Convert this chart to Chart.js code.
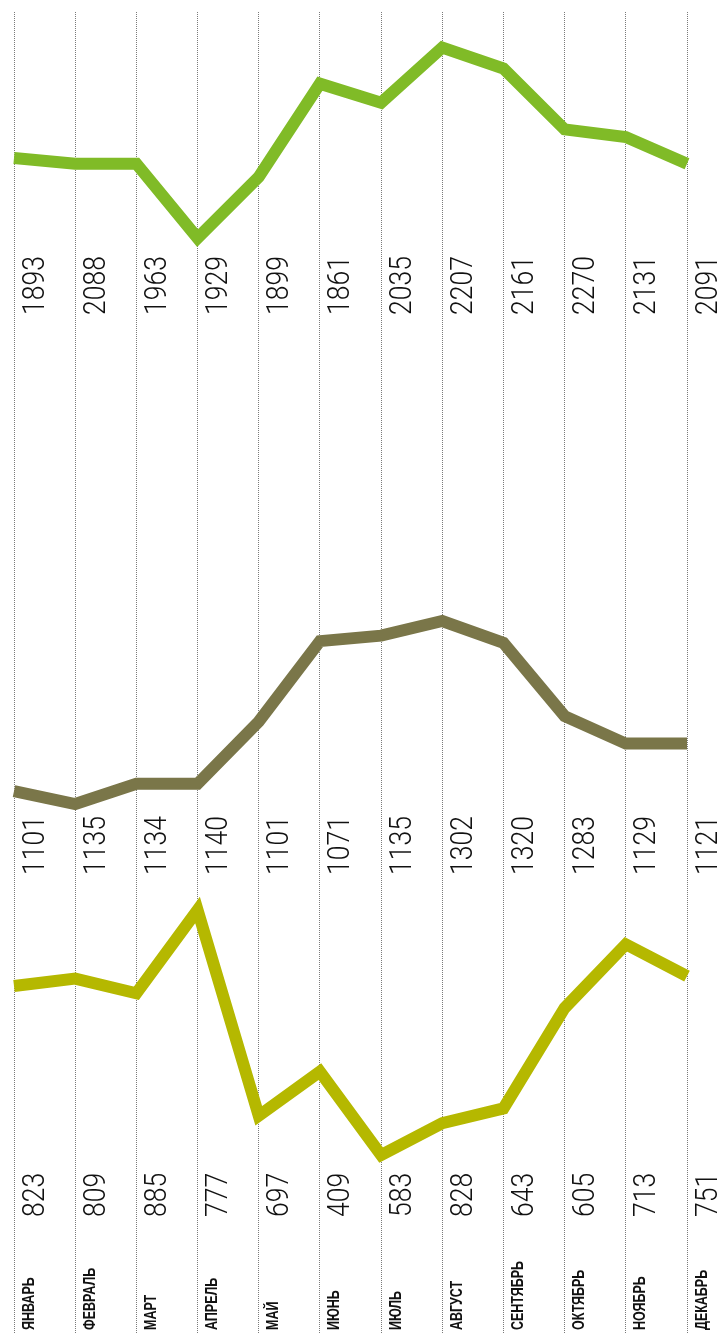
<!DOCTYPE html>
<html lang="ru">
<head>
<meta charset="utf-8">
<title>График по месяцам</title>
<script src="https://cdn.jsdelivr.net/npm/chart.js@4/dist/chart.umd.min.js"></script>
<style>
    html, body { margin: 0; padding: 0; background: #fff; }
    #wrap { width: 722px; height: 1334px; }
</style>
</head>
<body>
<div id="wrap"><canvas id="grafik" width="722" height="1334"></canvas></div>
<script>
// ------------------- ДАННЫЕ -------------------

const mesyatsy = ['ЯНВАРЬ', 'ФЕВРАЛЬ', 'МАРТ', 'АПРЕЛЬ', 'МАЙ', 'ИЮНЬ',
    'ИЮЛЬ', 'АВГУСТ', 'СЕНТЯБРЬ', 'ОКТЯБРЬ', 'НОЯБРЬ', 'ДЕКАБРЬ'];

// Подписи под линиями
const chislaVerh = [1893, 2088, 1963, 1929, 1899, 1861, 2035, 2207, 2161, 2270, 2131, 2091];
const chislaSred = [1101, 1135, 1134, 1140, 1101, 1071, 1135, 1302, 1320, 1283, 1129, 1121];
const chislaNiz = [823, 809, 885, 777, 697, 409, 583, 828, 643, 605, 713, 751];

// Форма линий (относительный уровень 0..100)
const liniyaVerh = [42, 39, 39, 0, 32, 81, 71, 100, 89, 57, 53, 39];
const liniyaSred = [7, 0, 11, 11, 45, 89, 92, 100, 88, 48, 33, 33];
const liniyaNiz = [69, 72, 66, 100, 16, 34, 0, 13, 19, 60, 86, 73];

// ------------------- РАЗМЕТКА -------------------

const OBLAST_VERH = 12;     // верх области графика
const OBLAST_NIZ = 1334;    // низ области графика

// Полосы, в которых живёт каждая линия: [пиксель для 100, пиксель для 0]
function os(verh, niz) {
    const k = (niz - verh) / 100;
    return {
        display: false,
        min: -(OBLAST_NIZ - niz) / k,
        max: 100 + (verh - OBLAST_VERH) / k
    };
}

// Рисуем повёрнутый текст снизу вверх
function povernutyTekst(ctx, tekst, x, y, shrift, szhatie) {
    ctx.save();
    ctx.translate(x, y);
    ctx.rotate(-Math.PI / 2);
    ctx.scale(szhatie, 1);
    ctx.font = shrift;
    ctx.fillStyle = '#111';
    ctx.textAlign = 'left';
    ctx.textBaseline = 'alphabetic';
    ctx.fillText(tekst, 0, 0);
    ctx.restore();
}

const podpisi = {
    id: 'podpisi',
    afterDraw(chart) {
        const ctx = chart.ctx;
        const x = chart.scales.x;
        mesyatsy.forEach((m, i) => {
            const px = x.getPixelForValue(i);
            povernutyTekst(ctx, String(chislaVerh[i]), px + 29.5, 315, '300 32px Roboto', 0.83);
            povernutyTekst(ctx, String(chislaSred[i]), px + 29.5, 875, '300 32px Roboto', 0.83);
            povernutyTekst(ctx, String(chislaNiz[i]), px + 29.5, 1217, '300 32px Roboto', 0.83);
            povernutyTekst(ctx, m, px + 19.5, 1330, 'bold 16px "Liberation Sans", Arial, sans-serif', 0.78);
        });
    }
};

function liniya(dannye, cvet, os) {
    return {
        data: dannye,
        yAxisID: os,
        borderColor: cvet,
        borderWidth: 12,
        borderCapStyle: 'butt',
        borderJoinStyle: 'miter',
        pointRadius: 0,
        tension: 0,
        fill: false
    };
}

new Chart(document.getElementById('grafik').getContext('2d'), {
    type: 'line',
    data: {
        labels: mesyatsy,
        datasets: [
            liniya(liniyaVerh, '#80bb27', 'yVerh'),
            liniya(liniyaSred, '#7a7649', 'ySred'),
            liniya(liniyaNiz, '#b5b800', 'yNiz')
        ]
    },
    options: {
        responsive: false,
        animation: false,
        layout: { padding: { top: OBLAST_VERH, bottom: 0, left: 14, right: 35 } },
        plugins: { legend: { display: false }, tooltip: { enabled: false } },
        scales: {
            x: {
                offset: false,
                ticks: { display: false },
                grid: { color: '#7a7a7a', lineWidth: 1, drawTicks: false },
                border: { display: false, dash: [1, 1] }
            },
            yVerh: os(47.5, 238),
            ySred: os(621, 804),
            yNiz: os(910, 1155)
        }
    },
    plugins: [podpisi]
});
</script>
</body>
</html>
